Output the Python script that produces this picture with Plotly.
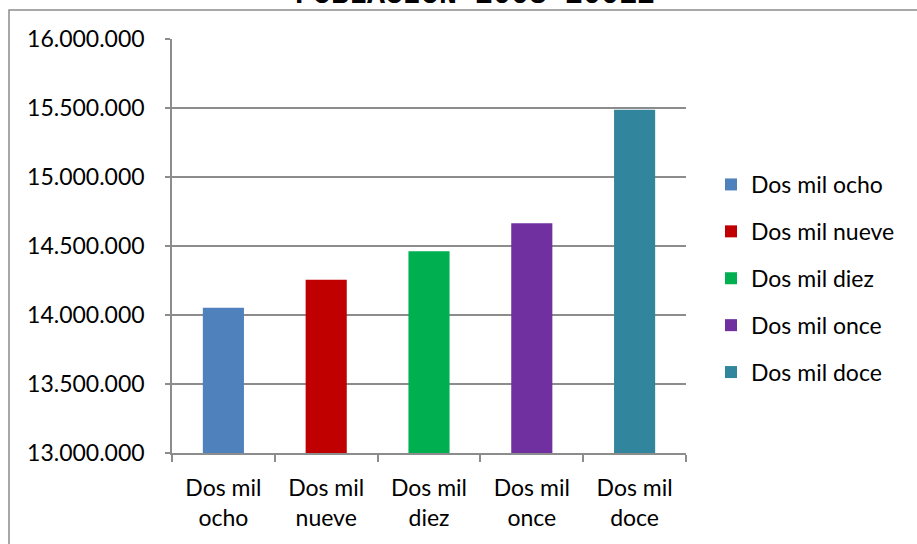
import plotly.graph_objects as go

# Population per year (inhabitants)
categories = ["Dos mil ocho", "Dos mil nueve", "Dos mil diez", "Dos mil once", "Dos mil doce"]
tick_labels = ["Dos mil<br>ocho", "Dos mil<br>nueve", "Dos mil<br>diez", "Dos mil<br>once", "Dos mil<br>doce"]
population = [14053000, 14256000, 14462000, 14664000, 15488000]
bar_colors = ["#4F81BD", "#C00000", "#00B050", "#7030A0", "#31859C"]

title_text = "POBLACION 2008-20012"

W, H = 917, 544
L, R, T, B = 172, 231, 39, 91
plot_w = W - L - R
plot_h = H - T - B


def px_x(px):
    return (px - L) / plot_w


def px_y(py):
    return (H - B - py) / plot_h


fig = go.Figure()
for i, (cat, val, col) in enumerate(zip(categories, population, bar_colors)):
    fig.add_trace(go.Bar(
        x=[tick_labels[i]],
        y=[val],
        name=cat,
        legendgroup=cat,
        marker=dict(color=col, line=dict(width=0)),
        width=0.4,
    ))

grid_col = "#8C8C8C"
font_main = "Lato, 'Open Sans', sans-serif"
fsize = 23

fig.update_layout(
    width=W, height=H,
    margin=dict(l=L, r=R, t=T, b=B, pad=0),
    paper_bgcolor="white",
    plot_bgcolor="white",
    barmode="overlay",
    separators=",.",
    font=dict(family=font_main, size=fsize, color="#000000"),
    showlegend=True,
    legend=dict(
        x=px_x(711), xanchor="left",
        y=px_y(163), yanchor="top",
        tracegroupgap=14,
        font=dict(size=fsize, family=font_main),
        bgcolor="rgba(0,0,0,0)",
    ),
    xaxis=dict(
        categoryorder="array",
        categoryarray=tick_labels,
        showline=True, linecolor=grid_col, linewidth=1.5,
        ticks="outside", tickson="boundaries", ticklen=7,
        tickcolor=grid_col, tickwidth=1.5,
        showgrid=False,
        ticklabelstandoff=14,
        tickfont=dict(size=fsize, family=font_main),
        fixedrange=True,
    ),
    yaxis=dict(
        range=[13000000, 16000000],
        dtick=500000,
        tick0=13000000,
        tickformat=",d",
        showline=True, linecolor=grid_col, linewidth=1.5,
        ticks="outside", ticklen=5, tickcolor=grid_col, tickwidth=1.5,
        showgrid=True, gridcolor=grid_col, gridwidth=1.5,
        zeroline=False,
        ticklabelstandoff=16,
        tickfont=dict(size=fsize, family=font_main),
        fixedrange=True,
    ),
    shapes=[
        # chart area frame, running past the visible window on the right and bottom
        dict(type="rect", xref="paper", yref="paper",
             x0=px_x(9), x1=px_x(960), y0=px_y(600), y1=px_y(10),
             line=dict(color="#8C8C8C", width=1.5), fillcolor="rgba(0,0,0,0)",
             layer="below"),
    ],
    annotations=[
        dict(text="<b>" + title_text + "</b>", xref="paper", yref="paper",
             x=px_x(475), xanchor="center",
             y=px_y(5), yanchor="bottom", yshift=-9,
             showarrow=False,
             font=dict(family="'Liberation Mono', 'Courier New', monospace", size=30, color="#000000")),
    ],
)

fig.write_html("out.html")
